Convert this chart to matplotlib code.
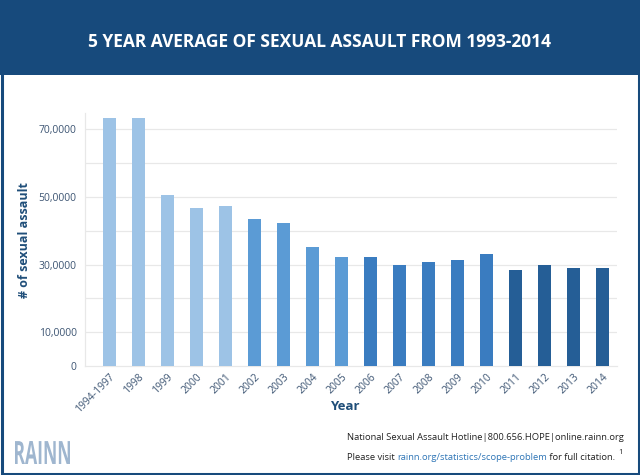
import matplotlib
matplotlib.use("Agg")
import matplotlib.pyplot as plt
from matplotlib.patches import Rectangle, PathPatch
from matplotlib.textpath import TextPath
from matplotlib.font_manager import FontProperties
from matplotlib.transforms import Affine2D

categories = ["1994-1997", "1998", "1999", "2000", "2001", "2002", "2003", "2004", "2005",
              "2006", "2007", "2008", "2009", "2010", "2011", "2012", "2013", "2014"]
values = [73400, 73400, 50600, 46600, 47300, 43500, 42200, 35300, 32200,
          32200, 30000, 30700, 31500, 33000, 28400, 30000, 29100, 29100]
bar_colors = ["#9dc3e6"] * 5 + ["#5b9bd5"] * 4 + ["#3a7cc0"] * 5 + ["#255e96"] * 4
grid_ticks = [0, 10000, 20000, 30000, 40000, 50000, 60000, 70000]
label_ticks = [0, 10000, 30000, 50000, 70000]
label_texts = ["0", "10,0000", "30,0000", "50,0000", "70,0000"]

plt.rcParams['font.family'] = ['Open Sans', 'DejaVu Sans']

W, H = 640, 475
fig = plt.figure(figsize=(6.4, 4.75), dpi=100)
fig.patch.set_facecolor("white")

dark = "#174a7c"
fig.patches.append(Rectangle((0, 1 - 75 / H), 1, 75 / H, transform=fig.transFigure,
                             facecolor=dark, edgecolor="none", zorder=0))
fig.patches.append(Rectangle((1.5 / W, 1.5 / H), 1 - 3 / W, 1 - 3 / H, transform=fig.transFigure,
                             facecolor="none", edgecolor=dark, lw=2.2, zorder=5))

fig.text(0.5, 1 - 42 / H, "5 YEAR AVERAGE OF SEXUAL ASSAULT FROM 1993-2014",
         color="white", fontsize=12.5, fontweight="bold", ha="center", va="center")

ax = fig.add_axes([85 / W, 1 - 366 / H, (617 - 85) / W, (366 - 112.5) / H])
x = list(range(len(categories)))
ax.bar(x, values, width=0.42, color=bar_colors, zorder=3)
ax.set_xlim(-0.845, 17.5)
ax.set_ylim(0, 75000)
for g in grid_ticks[1:]:
    ax.axhline(g, color="#e8e8e8", lw=0.9, zorder=0)
ax.set_yticks(label_ticks)
ax.set_yticklabels(label_texts)
ax.tick_params(axis="y", which="both", length=0, labelsize=7.5, labelcolor="#3d5573", pad=6)
ax.set_xticks(x)
ax.set_xticklabels(categories, rotation=45, ha="right", rotation_mode="anchor")
ax.tick_params(axis="x", length=0, labelsize=7.5, labelcolor="#3d5573", pad=4)
for s in ["top", "right"]:
    ax.spines[s].set_visible(False)
for s in ["left", "bottom"]:
    ax.spines[s].set_color("#e8e8e8")
    ax.spines[s].set_linewidth(0.9)

fig.text(345 / W, 1 - 407 / H, "Year", color="#1f4e79", fontsize=9.5, fontweight="bold",
         ha="center", va="center")
fig.text(25 / W, 1 - 240 / H, "# of sexual assault", color="#1f4e79", fontsize=9,
         fontweight="bold", rotation=90, ha="center", va="center")

# condensed "RAINN" logo text
tp = TextPath((0, 0), "RAINN", size=1, prop=FontProperties(family="Open Sans", weight="bold"))
ext = tp.get_extents()
target_w, target_h = 55, 23
tr = (Affine2D().translate(-ext.x0, -ext.y0)
      .scale(target_w / ext.width, target_h / ext.height)
      .translate(15, H - 464))
logo = PathPatch(tr.transform_path(tp), facecolor="#9fb6cf", edgecolor="none",
                 transform=None)
fig.patches.append(logo)

fs = 6.75
fig.text(347 / W, 1 - 438 / H, "National Sexual Assault Hotline|800.656.HOPE|online.rainn.org",
         color="#222222", fontsize=fs, ha="left", va="center")

fig.canvas.draw()
r = fig.canvas.get_renderer()
xpos = 347
y2 = 1 - 458 / H
for txt, col in [("Please visit ", "#222222"), ("rainn.org/statistics/scope-problem", "#2e75b6"),
                 (" for full citation.", "#222222")]:
    t = fig.text(xpos / W, y2, txt, color=col, fontsize=fs, ha="left", va="center")
    bb = t.get_window_extent(renderer=r)
    xpos = bb.x1
fig.text((xpos + 3) / W, 1 - 453 / H, "1", color="#222222", fontsize=5.5, ha="left", va="center")

fig.savefig("out.png", dpi=100)
